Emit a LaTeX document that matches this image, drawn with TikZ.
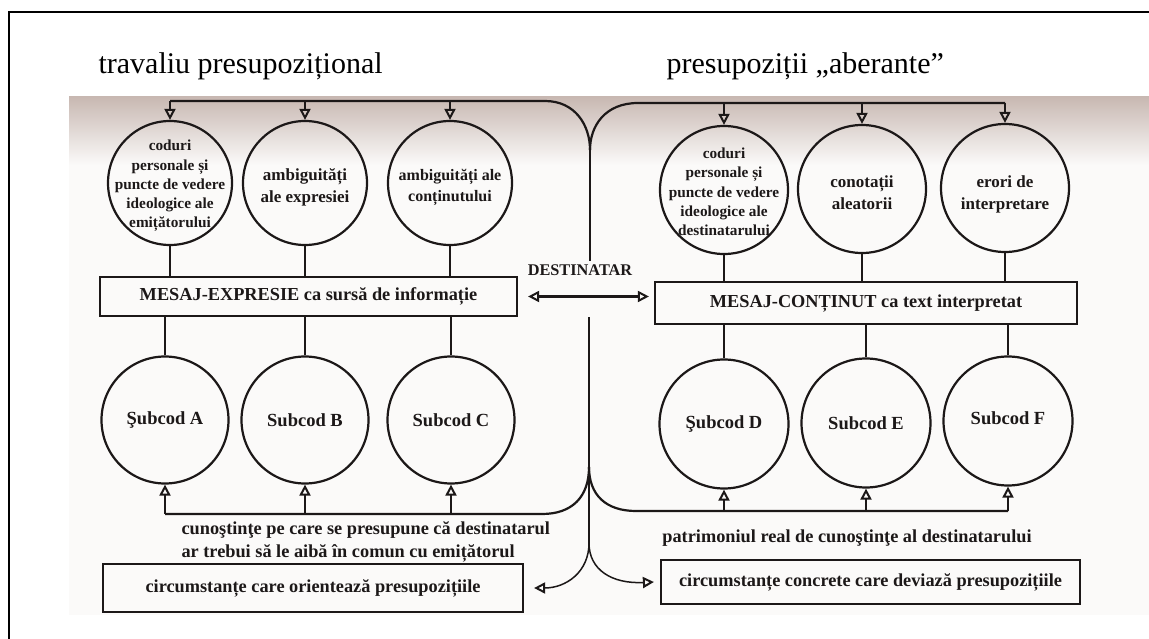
\documentclass[tikz,border=0pt]{standalone}
\usepackage{fontspec}
\setmainfont{Liberation Serif}
\usetikzlibrary{arrows.meta}
\definecolor{scangray}{RGB}{200,184,178}
\definecolor{paper}{RGB}{251,250,249}
\definecolor{ink}{RGB}{28,24,24}
\begin{document}
\begin{tikzpicture}[x=1pt,y=-1pt,
  circ/.style={draw=ink, circle, line width=2.2pt, minimum size=#1, inner sep=0pt},
  circ/.default=124pt,
  ctext/.style={align=center, text=ink, font=\fontsize{15.3}{19.3}\selectfont\bfseries},
  ctextm/.style={align=center, text=ink, font=\fontsize{16}{21}\selectfont\bfseries},
  ctextb/.style={align=center, text=ink, font=\fontsize{17}{22}\selectfont\bfseries},
  stext/.style={text=ink, font=\fontsize{18.5}{22}\selectfont\bfseries},
  mbox/.style={draw=ink, line width=2.2pt, inner sep=0pt, text=ink, font=\fontsize{18.3}{22}\selectfont\bfseries},
  btext/.style={text=ink, align=left, font=\fontsize{18.3}{23}\selectfont\bfseries},
  conn/.style={draw=ink, line width=2.2pt},
  thin/.style={draw=ink, line width=1.5pt},
  tip/.tip={Triangle[open,length=11pt,width=11pt,line width=2pt]},
  arr/.style={conn, -tip},
  darr/.style={conn, tip-tip},
  carr/.style={thin, -tip},
  title/.style={anchor=base west, font=\fontsize{30}{33}\selectfont}
]
\useasboundingbox (0,0) rectangle (1149,639);
% scanned area
\fill[paper] (69,97) rectangle (1149,615);
\shade[top color=scangray, bottom color=paper] (69,97) rectangle (1149,165);
% frame
\draw[line width=2pt] (9,639) -- (9,12) -- (1149,12);
% titles
\node[title] (t1) at (95,74) {travaliu presupozițional};
\node[title] (t2) at (663,74) {presupoziții „aberante”};

% top circles
\node[circ] (c1) at (170,183) {};
\node[circ] (c2) at (305,183) {};
\node[circ] (c3) at (450,183) {};
\node[circ=128pt] (c4) at (724,190) {};
\node[circ=128pt] (c5) at (862,189) {};
\node[circ=128pt] (c6) at (1005,188) {};
\node[ctext, yshift=-3pt] at (c1) {coduri\\personale și\\puncte de vedere\\ideologice ale\\emițătorului};
\node[ctextb, yshift=-4pt] at (c2) {ambiguități\\ale expresiei};
\node[ctextm, yshift=-4pt] at (c3) {ambiguități ale\\conținutului};
\node[ctext, yshift=-2pt] at (c4) {coduri\\personale și\\puncte de vedere\\ideologice ale\\destinatarului};
\node[ctextb, yshift=-4pt] at (c5) {conotații\\aleatorii};
\node[ctextb, yshift=-6pt] at (c6) {erori de\\interpretare};

% message boxes
\node[mbox, minimum width=417pt, minimum height=39pt] (b1) at (308.5,296.5) {MESAJ-EXPRESIE ca sursă de informație};
\node[mbox, minimum width=422pt, minimum height=42pt] (b2) at (866,303) {MESAJ-CONȚINUT ca text interpretat};
\node[text=ink, font=\fontsize{16.3}{19}\selectfont\bfseries] (dest) at (580,270) {DESTINATAR};

% subcode circles
\node[circ=127pt] (s1) at (165,420) {};
\node[circ=127pt] (s2) at (305,420) {};
\node[circ=127pt] (s3) at (451,420) {};
\node[circ=129pt] (s4) at (724,424) {};
\node[circ=129pt] (s5) at (866,423) {};
\node[circ=129pt] (s6) at (1008,421) {};
\node[stext] at (s1) {Şubcod A};
\node[stext] at (s2) {Subcod B};
\node[stext] at (s3) {Subcod C};
\node[stext] at (s4) {Şubcod D};
\node[stext] at (s5) {Subcod E};
\node[stext, yshift=3pt] at (s6) {Subcod F};

% lower boxes and texts
\node[btext, anchor=west] (k1) at (178,541.5) {cunoştinţe pe care se presupune că destinatarul\\ar trebui să le aibă în comun cu emițătorul};
\node[btext] (k2) at (847,538) {patrimoniul real de cunoştinţe al destinatarului};
\node[mbox, minimum width=420pt, minimum height=48pt] (l1) at (313,588) {circumstanțe care orientează presupozițiile};
\node[mbox, minimum width=419pt, minimum height=44pt] (l2) at (870.5,582) {circumstanțe concrete care deviază presupozițiile};

% junction coordinates
\coordinate (jt) at (590,150);
\coordinate (hl) at (0,101);
\coordinate (hr) at (0,103);
\coordinate (jb1) at (589,467);
\coordinate (jb2) at (589,543);
\coordinate (bl) at (0,514);
\coordinate (br) at (0,511);

% top brackets
\draw[conn] (c1.north |- hl) -- (545,101) .. controls (575,101) and (590,125) .. (jt);
\draw[conn] (jt) .. controls (590,126) and (605,103) .. (638,103) -- (c6.north |- hr);
\foreach \c in {c1,c2,c3} \draw[arr] (\c.north |- hl) -- (\c.north);
\foreach \c in {c4,c5,c6} \draw[arr] (\c.north |- hr) -- (\c.north);
\draw[thin] (jt) -- (jt |- dest.north);

% circle-box connectors
\foreach \c in {c1,c2,c3} \draw[conn] (\c.south) -- (\c.south |- b1.north);
\foreach \c in {c4,c5,c6} \draw[conn] (\c.south) -- (\c.south |- b2.north);
\foreach \c in {s1,s2,s3} \draw[conn] (\c.north |- b1.south) -- (\c.north);
\foreach \c in {s4,s5,s6} \draw[conn] (\c.north |- b2.south) -- (\c.north);

% destinatar double arrow
\draw[darr] ([xshift=10pt]b1.east) -- ([xshift=-5pt]b2.west |- b1.east);

% central lower line
\draw[thin] (jb1 |- b1.south) -- (jb2);
\draw[conn] (jb1) .. controls (589,497) and (572,514) .. (542,514) -- (s1.south |- bl);
\draw[conn] (jb1) .. controls (589,495) and (606,511) .. (636,511) -- (s6.south |- br);
\foreach \c in {s1,s2,s3} \draw[arr] (\c.south |- bl) -- (\c.south);
\foreach \c in {s4,s5,s6} \draw[arr] (\c.south |- br) -- (\c.south);
\draw[carr] (jb2) .. controls (589,572) and (566,588) .. ([xshift=10pt]l1.east);
\draw[carr] (jb2) .. controls (589,570) and (612,584) .. ([xshift=-6pt]l2.west);
\end{tikzpicture}
\end{document}
